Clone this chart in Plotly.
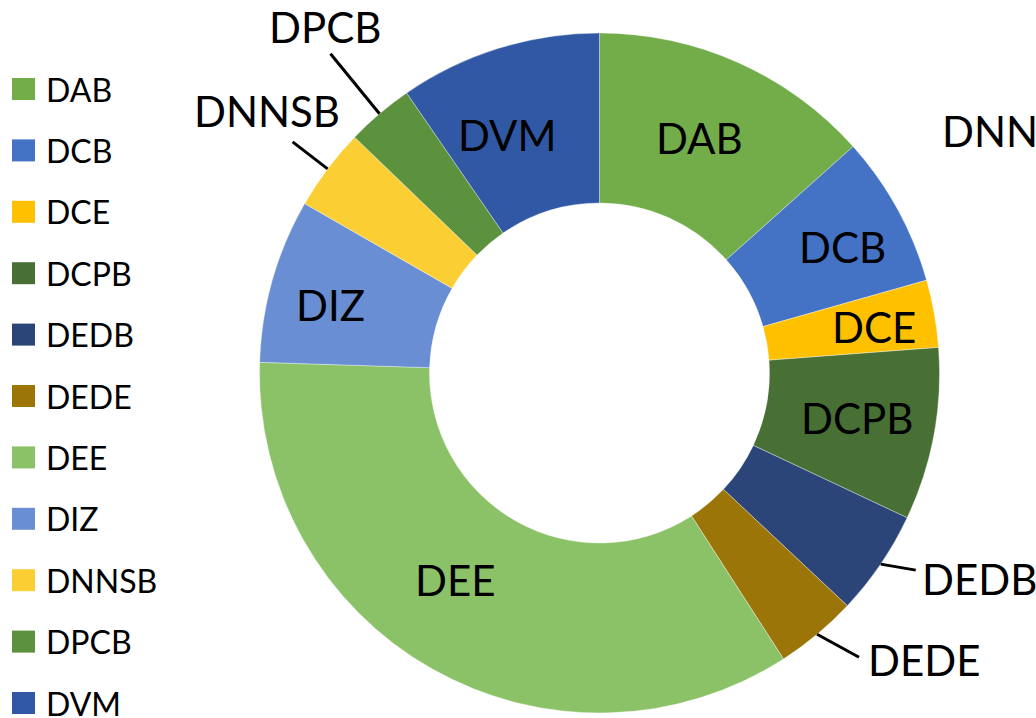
import math
import plotly.graph_objects as go

# Share of each category (percent of total)
categories = ["DAB", "DCB", "DCE", "DCPB", "DEDB", "DEDE", "DEE", "DIZ", "DNNSB", "DPCB", "DVM"]
shares = [13.4, 7.2, 3.2, 8.2, 5.0, 3.9, 34.6, 7.8, 3.9, 3.2, 9.6]
colors = ["#72AD4A", "#4472C4", "#FFC000", "#486F34", "#2B4579", "#9C7508",
          "#8BC267", "#6A8ED3", "#FBCF34", "#5C913E", "#3058A4"]
title_text = "DNN"

W, H = 1036, 718
CX, CY, R = 599.5, 373.0, 340.0   # donut centre / outer radius in pixels
HOLE = 0.5
FONT = "Lato, 'Open Sans', sans-serif"
LABEL_SIZE = 42

# categories labelled outside the ring, with leader-line end offset and text anchor
outside = {
    "DEDB": dict(end=(35, 6), text=(4, 9), xanchor="left", yanchor="middle"),
    "DEDE": dict(end=(42, 23), text=(7, 3), xanchor="left", yanchor="middle"),
    "DNNSB": dict(end=(-35, -27), text=(-26, -31), xanchor="center", yanchor="middle"),
    "DPCB": dict(end=(-49, -60), text=(-6, -27), xanchor="center", yanchor="middle"),
}
# radius (px) and angular nudge (deg) for labels placed inside the ring
inside_pos = {
    "DAB": (255, -1.0), "DCB": (274, 1.4), "DCE": (278, 0.6), "DCPB": (261, -0.6),
    "DEE": (252, 5.4), "DIZ": (278, -1.6), "DVM": (255, -3.8),
}


def px(x, y):
    return x / W, 1 - y / H


fig = go.Figure(go.Pie(
    labels=categories,
    values=shares,
    sort=False,
    direction="clockwise",
    rotation=0,
    hole=HOLE,
    marker=dict(colors=colors, line=dict(color="rgba(255,255,255,0.6)", width=0.6)),
    textinfo="none",
    showlegend=False,
    domain=dict(x=[(CX - R) / W, (CX + R) / W], y=[1 - (CY + R) / H, 1 - (CY - R) / H]),
))

annotations = []
shapes = []
total = sum(shares)
cum = 0.0
for name, val in zip(categories, shares):
    mid = (cum + val / 2) / total * 2 * math.pi
    cum += val
    if name in outside:
        s, c = math.sin(mid), math.cos(mid)
        o = outside[name]
        x0, y0 = CX + R * s, CY - R * c
        x1, y1 = x0 + o["end"][0], y0 + o["end"][1]
        a0, b0 = px(x0, y0)
        a1, b1 = px(x1, y1)
        shapes.append(dict(type="line", xref="paper", yref="paper", x0=a0, y0=b0, x1=a1, y1=b1,
                           line=dict(color="black", width=3)))
        tx, ty = px(x1 + o["text"][0], y1 + o["text"][1])
        annotations.append(dict(text=name, x=tx, y=ty, xref="paper", yref="paper", showarrow=False,
                                xanchor=o["xanchor"], yanchor=o["yanchor"],
                                font=dict(family=FONT, size=LABEL_SIZE, color="black")))
    else:
        rad, nudge = inside_pos[name]
        ang = mid + math.radians(nudge)
        s, c = math.sin(ang), math.cos(ang)
        tx, ty = px(CX + rad * s, CY - rad * c)
        annotations.append(dict(text=name, x=tx, y=ty, xref="paper", yref="paper", showarrow=False,
                                xanchor="center", yanchor="middle",
                                font=dict(family=FONT, size=LABEL_SIZE, color="black")))

# legend column on the left
LEG_TOP, LEG_STEP = 89.0, 61.4
for i, (name, col) in enumerate(zip(categories, colors)):
    yc = LEG_TOP + i * LEG_STEP
    x0, y0 = px(12, yc - 11)
    x1, y1 = px(35, yc + 11)
    shapes.append(dict(type="rect", xref="paper", yref="paper", x0=x0, y0=y0, x1=x1, y1=y1,
                       fillcolor=col, line=dict(width=0)))
    tx, ty = px(44, yc)
    annotations.append(dict(text=name, x=tx, y=ty, xref="paper", yref="paper", showarrow=False,
                            xanchor="left", yanchor="middle",
                            font=dict(family=FONT, size=32, color="black")))

tx, ty = px(940, 131)
annotations.append(dict(text=title_text, x=tx, y=ty, xref="paper", yref="paper", showarrow=False,
                        xanchor="left", yanchor="middle",
                        font=dict(family=FONT, size=LABEL_SIZE, color="black")))

fig.update_layout(
    width=W, height=H,
    margin=dict(l=0, r=0, t=0, b=0),
    paper_bgcolor="white",
    plot_bgcolor="white",
    annotations=annotations,
    shapes=shapes,
)

fig.write_html("out.html")
